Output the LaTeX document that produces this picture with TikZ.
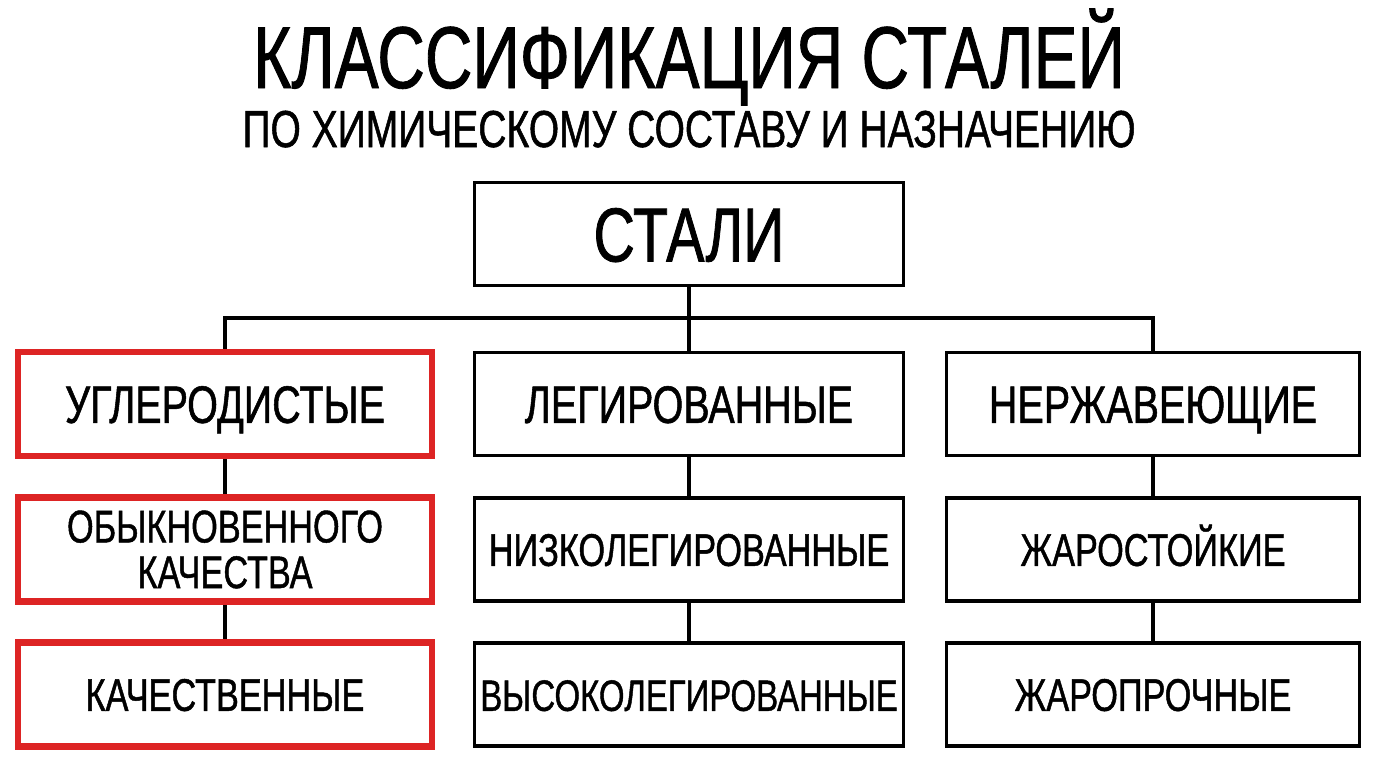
\documentclass[tikz,border=0pt]{standalone}
\usepackage{fontspec}
\setmainfont{Liberation Sans}[FakeStretch=0.75, FakeBold=1]
\usepackage{xcolor}
\usepackage{tikz}
\definecolor{boxred}{HTML}{DD2424}
\tikzstyle{box}=[fill=white, draw=black, shape=rectangle, line width=2pt, inner sep=0pt, minimum width=8.58cm, minimum height=2.06cm, text height=21.5pt, text depth=0pt, font=\fontsize{30}{32}\selectfont]
\tikzstyle{small box}=[style=box, text height=18.6pt, font=\fontsize{26}{26}\selectfont]
\tikzstyle{red box}=[draw=boxred, line width=3.6pt, minimum width=8.28cm, minimum height=2.08cm]
\tikzstyle{right box}=[minimum width=8.26cm]
\tikzstyle{link}=[-, draw=black, line width=1.8pt]
\pgfdeclarelayer{nodelayer}
\pgfdeclarelayer{edgelayer}
\pgfsetlayers{edgelayer,nodelayer,main}
\begin{document}
\begin{tikzpicture}[x=0.02cm, y=-0.02cm]
	\useasboundingbox (0, 0) rectangle (1376, 768);
	\begin{pgfonlayer}{nodelayer}
		\node [anchor=base, font=\fontsize{50}{52}\selectfont] (title) at (689, 88) {КЛАССИФИКАЦИЯ СТАЛЕЙ};
		\node [anchor=base, font=\fontsize{29.6}{32}\selectfont] (subtitle) at (689, 147) {ПО ХИМИЧЕСКОМУ СОСТАВУ И НАЗНАЧЕНИЮ};
		\node [style=box, text height=31.2pt, font=\fontsize{43.5}{45}\selectfont] (stali) at (689, 234) {СТАЛИ};
		\node [style=box, style=red box] (ugl) at (225, 404) {УГЛЕРОДИСТЫЕ};
		\node [style=box] (leg) at (689, 404) {ЛЕГИРОВАННЫЕ};
		\node [style=box, style=right box] (ner) at (1153, 404) {НЕРЖАВЕЮЩИЕ};
		\node [style=box, style=red box, align=center, text height=, text depth=, font=\fontsize{26}{26}\selectfont] (obyk) at (225, 549.5) {ОБЫКНОВЕННОГО\\КАЧЕСТВА};
		\node [style=small box] (nizko) at (689, 549.5) {НИЗКОЛЕГИРОВАННЫЕ};
		\node [style=small box, style=right box] (zharst) at (1153, 549.5) {ЖАРОСТОЙКИЕ};
		\node [style=small box, style=red box] (kach) at (225, 694.5) {КАЧЕСТВЕННЫЕ};
		\node [style=small box, font=\fontsize{25}{25}\selectfont] (vysoko) at (689, 694.5) {ВЫСОКОЛЕГИРОВАННЫЕ};
		\node [style=small box, style=right box] (zharpr) at (1153, 694.5) {ЖАРОПРОЧНЫЕ};
		\coordinate (bus) at (689, 318);
	\end{pgfonlayer}
	\begin{pgfonlayer}{edgelayer}
		\draw [style=link] (stali) to (leg);
		\draw [style=link] (ugl.north) |- (bus) -| (ner.north);
		\draw [style=link] (ugl) to (obyk);
		\draw [style=link] (obyk) to (kach);
		\draw [style=link] (leg) to (nizko);
		\draw [style=link] (nizko) to (vysoko);
		\draw [style=link] (ner) to (zharst);
		\draw [style=link] (zharst) to (zharpr);
	\end{pgfonlayer}
\end{tikzpicture}
\end{document}
